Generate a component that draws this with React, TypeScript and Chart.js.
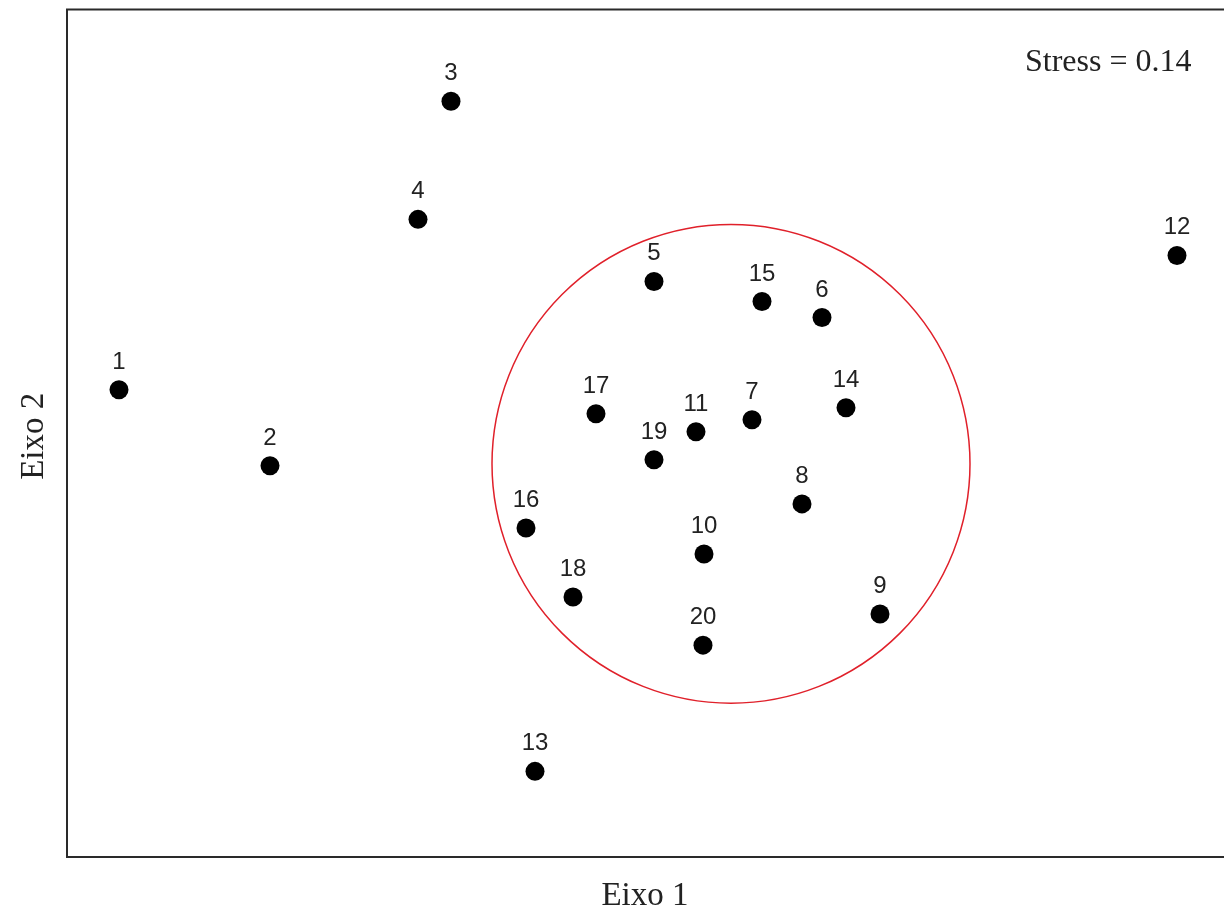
import React, { useEffect, useRef } from "react";
import { Chart, registerables } from "chart.js";

Chart.register(...registerables);

// NMDS site scores
const siteLabels = ["1", "2", "3", "4", "5", "6", "7", "8", "9", "10", "11", "12", "13", "14", "15", "16", "17", "18", "19", "20"];
const axis1Scores = [-1.224, -0.922, -0.56, -0.626, -0.154, 0.182, 0.042, 0.142, 0.298, -0.054, -0.07, 0.892, -0.392, 0.23, 0.062, -0.41, -0.27, -0.316, -0.154, -0.056];
const axis2Scores = [0.148, -0.004, 0.724, 0.488, 0.364, 0.292, 0.088, -0.08, -0.3, -0.18, 0.064, 0.416, -0.614, 0.112, 0.324, -0.128, 0.1, -0.266, 0.008, -0.362];

// Group highlight circle (in score units)
const circleCenter = [0, 0];
const circleRadius = 0.478;

const stressValue = 0.14;
const axisTitles = ["Eixo 1", "Eixo 2"];

const xRange = [-1.328, 0.988];
const yRange = [-0.785, 0.907];

const CANVAS_W = 1240;
const CANVAS_H = 910;

const decorPlugin = {
  id: "ordinationDecor",
  beforeDatasetsDraw(chart: any) {
    const { ctx, chartArea, scales } = chart;
    const xs = scales.x;
    const ys = scales.y;
    ctx.save();
    // frame
    ctx.strokeStyle = "#2a2a2a";
    ctx.lineWidth = 2;
    ctx.strokeRect(chartArea.left, chartArea.top, chartArea.right - chartArea.left, chartArea.bottom - chartArea.top);
    // circle
    const cx = xs.getPixelForValue(circleCenter[0]);
    const cy = ys.getPixelForValue(circleCenter[1]);
    const rx = Math.abs(xs.getPixelForValue(circleCenter[0] + circleRadius) - cx);
    const ry = Math.abs(ys.getPixelForValue(circleCenter[1] + circleRadius) - cy);
    ctx.beginPath();
    ctx.ellipse(cx, cy, rx, ry, 0, 0, Math.PI * 2);
    ctx.strokeStyle = "#e0202a";
    ctx.lineWidth = 1.5;
    ctx.stroke();
    ctx.restore();
  },
  afterDatasetsDraw(chart: any) {
    const { ctx, chartArea } = chart;
    const meta = chart.getDatasetMeta(0);
    ctx.save();
    ctx.fillStyle = "#222";
    ctx.font = "24px 'Liberation Sans', Arial, sans-serif";
    ctx.textAlign = "center";
    ctx.textBaseline = "alphabetic";
    meta.data.forEach((pt: any, i: number) => {
      ctx.fillText(siteLabels[i], pt.x, pt.y - 21);
    });

    // stress annotation
    ctx.font = "32px 'Liberation Serif', 'Times New Roman', serif";
    ctx.textAlign = "left";
    ctx.fillText(`Stress = ${stressValue.toFixed(2)}`, 1025, 71);

    // axis titles
    ctx.font = "33px 'Liberation Serif', 'Times New Roman', serif";
    ctx.textAlign = "center";
    ctx.fillText(axisTitles[0], 645, 905);
    ctx.translate(43, (chartArea.top + chartArea.bottom) / 2 + 3);
    ctx.rotate(-Math.PI / 2);
    ctx.fillText(axisTitles[1], 0, 0);
    ctx.restore();
  },
};

export default function App() {
  const canvasRef = useRef<HTMLCanvasElement | null>(null);

  useEffect(() => {
    if (!canvasRef.current) return;
    const points = axis1Scores.map((x, i) => ({ x, y: axis2Scores[i] }));
    const chart = new Chart(canvasRef.current, {
      type: "scatter",
      data: {
        datasets: [
          {
            data: points,
            pointRadius: 9.5,
            pointHoverRadius: 9.5,
            pointBackgroundColor: "#000",
            pointBorderColor: "#000",
            pointBorderWidth: 0,
          },
        ],
      },
      options: {
        responsive: false,
        animation: false,
        devicePixelRatio: 1,
        layout: { padding: { left: 67, top: 8, right: CANVAS_W - 1225, bottom: CANVAS_H - 857 } },
        plugins: { legend: { display: false }, tooltip: { enabled: false } },
        scales: {
          x: { type: "linear", display: false, min: xRange[0], max: xRange[1] },
          y: { type: "linear", display: false, min: yRange[0], max: yRange[1] },
        },
      },
      plugins: [decorPlugin],
    });
    return () => chart.destroy();
  }, []);

  return (
    <div style={{ position: "fixed", left: 0, top: 0, width: 1224, height: 910, overflow: "hidden", background: "#fff" }}>
      <canvas ref={canvasRef} width={CANVAS_W} height={CANVAS_H} style={{ display: "block" }} />
    </div>
  );
}
